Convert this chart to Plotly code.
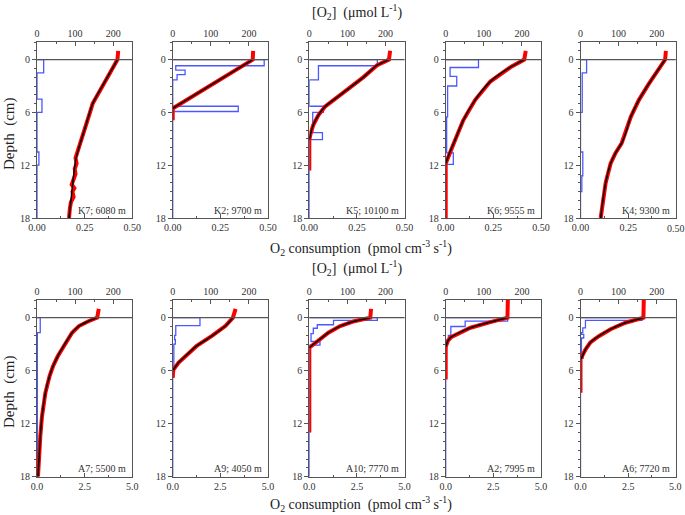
import plotly.graph_objects as go

# ---------------- data ----------------
labels = ["K7; 6080 m", "K2; 9700 m", "K5; 10100 m", "K6; 9555 m", "K4; 9300 m",
          "A7; 5500 m", "A9; 4050 m", "A10; 7770 m", "A2; 7995 m", "A6; 7720 m"]

# O2 profiles (red measurements): depth (cm), O2 (umol/L)
k7_red_depth = [-1.0, -0.5, 0, 1, 2, 3, 4, 5, 6, 7, 8, 9, 10, 10.8, 11.2, 11.8, 12.4, 13.0, 13.6, 14.2, 14.6, 15.0, 15.6, 16.2, 17.0, 18.0]
k7_red_o2 = [213, 212, 211, 198, 185, 172, 159, 146, 139, 132, 125, 117, 110, 106, 101, 104, 99, 101, 95, 91, 98, 93, 96, 89, 86, 84]
k2_red_depth = [-1.0, 0, 5.55, 6.9]
k2_red_o2 = [211, 210, 0, 0]
k5_red_depth = [-1.0, 0, 0.64, 1.96, 3.3, 4.6, 5.36, 6.3, 7.4, 8.4, 9.1, 12.6]
k5_red_o2 = [212, 209, 178, 143, 103, 63, 41, 24, 10.6, 3.5, 0, 0]
k6_red_depth = [-1.0, 0, 0.8, 2.5, 4.6, 6.9, 9.1, 10.5, 11.8, 18]
k6_red_o2 = [210, 206, 172, 117, 77, 46, 25, 11, 0, 0]
k4_red_depth = [-1.0, 0, 2.7, 4.6, 6.5, 8.4, 9.5, 10.6, 11.8, 14, 15.9, 18]
k4_red_o2 = [224, 222, 180, 153, 132, 118, 108, 92, 79, 66, 59, 53]
a7_red_depth = [-1.0, 0, 0.4, 0.95, 1.7, 2.5, 3.2, 4.4, 5.5, 6.6, 8.5, 11.2, 13.4, 18]
a7_red_o2 = [162, 158, 135, 110, 92, 80, 70, 54, 42, 33, 22, 13, 8.7, 2.6]
a9_red_depth = [-1.0, 0, 0.95, 2.1, 3.2, 4.4, 5.1, 5.9, 6.8]
a9_red_o2 = [165, 158, 138, 102, 63, 32, 15, 1.6, 0]
a10_red_depth = [-1.0, 0, 0.4, 0.95, 1.7, 2.5, 3.0, 3.4, 13.0]
a10_red_o2 = [162, 160, 118, 81, 50, 26, 10.6, 0, 0]
a2_red_depth = [-2.0, 0, 0.5, 1.14, 2.2, 2.6, 3.3, 7.0]
a2_red_o2 = [163, 162, 117, 65, 14, 6, 0, 0]
a6_red_depth = [-2.0, 0, 0.57, 1.3, 2.1, 2.8, 3.6, 4.4, 4.7, 8.5]
a6_red_o2 = [166, 165, 118, 79, 48, 26, 13, 4.4, 0, 0]

# model fits (black lines)
k7_fit_depth = [0, 2.5, 5, 7.5, 10, 11.5, 14, 16, 18]
k7_fit_o2 = [211, 178, 146, 128, 110, 101, 94, 89, 84]
k2_fit_depth = [0, 5.55]
k2_fit_o2 = [210, 0]
k5_fit_depth = [0, 0.64, 1.96, 3.3, 4.6, 5.36, 6.3, 7.4, 8.4, 9.1]
k5_fit_o2 = [209, 178, 143, 103, 63, 41, 24, 10.6, 3.5, 0]
k6_fit_depth = [0, 0.8, 2.5, 4.6, 6.9, 9.1, 10.5, 11.8]
k6_fit_o2 = [206, 172, 117, 77, 46, 25, 11, 0]
k4_fit_depth = [0, 2.7, 4.6, 6.5, 8.4, 9.5, 10.6, 11.8, 14, 15.9, 18]
k4_fit_o2 = [222, 180, 153, 132, 118, 108, 92, 79, 66, 59, 53]
a7_fit_depth = [0, 0.4, 0.95, 1.7, 2.5, 3.2, 4.4, 5.5, 6.6, 8.5, 11.2, 13.4, 18]
a7_fit_o2 = [158, 135, 110, 92, 80, 70, 54, 42, 33, 22, 13, 8.7, 2.6]
a9_fit_depth = [0, 0.95, 2.1, 3.2, 4.4, 5.1, 5.9]
a9_fit_o2 = [158, 138, 102, 63, 32, 15, 1.6]
a10_fit_depth = [0, 0.4, 0.95, 1.7, 2.5, 3.0, 3.4]
a10_fit_o2 = [160, 118, 81, 50, 26, 10.6, 0]
a2_fit_depth = [0, 0.5, 1.14, 2.2, 2.6, 3.3]
a2_fit_o2 = [162, 117, 65, 14, 6, 0]
a6_fit_depth = [0, 0.57, 1.3, 2.1, 2.8, 3.6, 4.4, 4.7]
a6_fit_o2 = [165, 118, 79, 48, 26, 13, 4.4, 0]

# O2 consumption rate steps (blue): layer top depth (cm), rate (pmol cm-3 s-1)
k7_rate_depth = [0, 1.5, 4.5, 6.0, 10.5, 12.0, 18]
k7_rate = [0.035, 0, 0.026, 0, 0.01, 0, 0]
k2_rate_depth = [0, 0.7, 1.2, 1.7, 2.3, 5.3, 5.9, 18]
k2_rate = [0.48, 0.016, 0.065, 0.023, 0, 0.344, 0, 0]
k5_rate_depth = [0, 0.7, 2.3, 5.3, 6.0, 8.3, 9.1, 18]
k5_rate = [0.357, 0.048, 0, 0.074, 0.018, 0.069, 0, 0]
k6_rate_depth = [0, 0.9, 1.9, 3.0, 6.5, 10.6, 11.9, 18]
k6_rate = [0.172, 0.023, 0.058, 0.01, 0.005, 0.04, 0, 0]
k4_rate_depth = [0, 1.5, 6.0, 10.5, 13.2, 15.0, 18]
k4_rate = [0.032, 0.009, 0, 0.012, 0.007, 0, 0]
a7_rate_depth = [0, 1.7, 18]
a7_rate = [0.17, 0.02, 0.02]
a9_rate_depth = [0, 0.9, 2.0, 2.5, 3.0, 5.5, 18]
a9_rate = [1.43, 0.16, 0.1, 0.14, 0.06, 0, 0]
a10_rate_depth = [0, 0.3, 0.8, 1.2, 1.8, 2.7, 3.1, 18]
a10_rate = [3.57, 1.27, 0.42, 0.21, 0.09, 0.56, 0, 0]
a2_rate_depth = [0, 0.4, 1.0, 2.0, 2.7, 3.5, 18]
a2_rate = [3.25, 1.02, 0.27, 0.14, 0.05, 0, 0]
a6_rate_depth = [0, 0.3, 1.15, 1.7, 1.9, 2.3, 4.2, 4.6, 18]
a6_rate = [3.23, 0.26, 0.12, 0.05, 0.17, 0.05, 0.14, 0, 0]

red_depths = [k7_red_depth, k2_red_depth, k5_red_depth, k6_red_depth, k4_red_depth,
              a7_red_depth, a9_red_depth, a10_red_depth, a2_red_depth, a6_red_depth]
red_o2s = [k7_red_o2, k2_red_o2, k5_red_o2, k6_red_o2, k4_red_o2,
           a7_red_o2, a9_red_o2, a10_red_o2, a2_red_o2, a6_red_o2]
fit_depths = [k7_fit_depth, k2_fit_depth, k5_fit_depth, k6_fit_depth, k4_fit_depth,
              a7_fit_depth, a9_fit_depth, a10_fit_depth, a2_fit_depth, a6_fit_depth]
fit_o2s = [k7_fit_o2, k2_fit_o2, k5_fit_o2, k6_fit_o2, k4_fit_o2,
           a7_fit_o2, a9_fit_o2, a10_fit_o2, a2_fit_o2, a6_fit_o2]
rate_depths = [k7_rate_depth, k2_rate_depth, k5_rate_depth, k6_rate_depth, k4_rate_depth,
               a7_rate_depth, a9_rate_depth, a10_rate_depth, a2_rate_depth, a6_rate_depth]
rates = [k7_rate, k2_rate, k5_rate, k6_rate, k4_rate,
         a7_rate, a9_rate, a10_rate, a2_rate, a6_rate]

o2_ticks = [0, 100, 200]
rate_ticks_row1 = [0, 0.25, 0.5]
rate_ticks_row2 = [0, 2.5, 5.0]
depth_ticks = [0, 6, 12, 18]

# ---------------- layout geometry ----------------
W, H = 685, 515
col_left_px = [37, 172.7, 309.3, 445.7, 580.5]
panel_w_px = 95.3
row_px = [(42, 218), (300, 476.7)]

FONT = "Liberation Serif, Times New Roman, serif"
AXC = "#555555"
BLUE = "rgb(75,88,255)"
TXT = "#333333"

fig = go.Figure()
layout = dict(
    template="none",
    width=W, height=H, margin=dict(l=0, r=0, t=0, b=0, pad=0), autosize=False,
    paper_bgcolor="white", plot_bgcolor="white", showlegend=False,
    font=dict(family=FONT, size=10, color=TXT),
)
shapes = []
annotations = []

for k in range(10):
    r, c = divmod(k, 5)
    xb = 2 * k + 1
    xt = 2 * k + 2
    yi = k + 1
    xb_name = "xaxis" if xb == 1 else f"xaxis{xb}"
    xt_name = f"xaxis{xt}"
    y_name = "yaxis" if yi == 1 else f"yaxis{yi}"
    xb_ref = "x" if xb == 1 else f"x{xb}"
    xt_ref = f"x{xt}"
    y_ref = "y" if yi == 1 else f"y{yi}"

    x0 = col_left_px[c] / W
    x1 = (col_left_px[c] + panel_w_px) / W
    y0 = 1 - row_px[r][1] / H
    y1 = 1 - row_px[r][0] / H

    rticks = rate_ticks_row1 if r == 0 else rate_ticks_row2
    rmax = rticks[-1]
    rfmt = ".2f" if r == 0 else ".1f"
    rtext = [format(v, rfmt) for v in rticks]
    last_col = (c == 4)
    if last_col:
        # the right-most label sits at the page edge; it is drawn as an annotation below
        rtext = rtext[:-1] + [""]

    layout[xb_name] = dict(
        domain=[x0, x1], anchor=y_ref, range=[0, rmax], side="bottom",
        tickvals=rticks, ticktext=rtext, ticks="inside", ticklen=4, tickcolor=AXC,
        minor=dict(dtick=rmax / 4, tick0=0, ticks="inside", ticklen=2, tickcolor=AXC),
        showline=True, linecolor=AXC, linewidth=1, showgrid=False, zeroline=False,
        automargin=False, ticklabeloverflow="allow",
        tickfont=dict(family=FONT, size=10, color=TXT), fixedrange=True,
    )
    layout[xt_name] = dict(
        overlaying=xb_ref, anchor=y_ref, range=[0, 250], side="top",
        tickvals=o2_ticks, ticks="inside", ticklen=4, tickcolor=AXC,
        minor=dict(dtick=50, tick0=0, ticks="inside", ticklen=2, tickcolor=AXC),
        showline=True, linecolor=AXC, linewidth=1, showgrid=False, zeroline=False,
        automargin=False, ticklabeloverflow="allow",
        tickfont=dict(family=FONT, size=10, color=TXT), fixedrange=True,
    )
    layout[y_name] = dict(
        domain=[y0, y1], anchor=xb_ref, range=[18, -2],
        tickvals=depth_ticks, ticks="outside", ticklen=4, tickcolor=AXC,
        minor=dict(dtick=1, tick0=0, ticks="outside", ticklen=2, tickcolor=AXC),
        showline=True, mirror=True, linecolor=AXC, linewidth=1,
        showgrid=False, zeroline=False, automargin=False,
        tickfont=dict(family=FONT, size=10, color=TXT), fixedrange=True,
    )

    if last_col:
        annotations.append(dict(text=format(rmax, rfmt), xref="paper", yref="paper",
                                x=x1, y=1 - (row_px[r][1] + 10) / H,
                                xanchor="center", yanchor="middle", showarrow=False,
                                font=dict(family=FONT, size=10, color=TXT)))

    # sediment-water interface line
    shapes.append(dict(type="line", xref=f"{xb_ref} domain", yref=y_ref,
                       x0=0, x1=1, y0=0, y1=0, line=dict(color=AXC, width=1.3)))

    # blue consumption steps
    sx = [0] + rates[k]
    sy = [0] + rate_depths[k]
    fig.add_trace(go.Scatter(x=sx, y=sy, mode="lines", line_shape="vh",
                             line=dict(color=BLUE, width=1.3),
                             xaxis=xb_ref, yaxis=y_ref, hoverinfo="skip"))
    # red measurements
    fig.add_trace(go.Scatter(x=red_o2s[k], y=red_depths[k], mode="lines",
                             line=dict(color="rgb(255,0,0)", width=4),
                             xaxis=xt_ref, yaxis=y_ref, hoverinfo="skip"))
    # black fit
    fig.add_trace(go.Scatter(x=fit_o2s[k], y=fit_depths[k], mode="lines",
                             line=dict(color="black", width=1.5, shape="spline", smoothing=0.6),
                             xaxis=xt_ref, yaxis=y_ref, hoverinfo="skip"))

    annotations.append(dict(text=labels[k], xref=f"{xb_ref} domain", yref=y_ref,
                            x=0.96, y=17.1, xanchor="right", yanchor="middle",
                            showarrow=False, font=dict(family=FONT, size=10, color=TXT)))

# global titles
o2_title = "[O<sub>2</sub>]  (μmol L<sup>-1</sup>)"
rate_title = "O<sub>2</sub> consumption  (pmol cm<sup>-3</sup> s<sup>-1</sup>)"
for ypx in (12, 268):
    annotations.append(dict(text=o2_title, xref="paper", yref="paper",
                            x=357 / W, y=1 - ypx / H, xanchor="center", yanchor="middle",
                            showarrow=False, font=dict(family=FONT, size=14, color="#222222")))
for ypx in (248, 504):
    annotations.append(dict(text=rate_title, xref="paper", yref="paper",
                            x=361 / W, y=1 - ypx / H, xanchor="center", yanchor="middle",
                            showarrow=False, font=dict(family=FONT, size=14, color="#222222")))
for ypx in (134, 392):
    annotations.append(dict(text="Depth  (cm)", xref="paper", yref="paper",
                            x=9 / W, y=1 - ypx / H, xanchor="center", yanchor="middle",
                            textangle=-90, showarrow=False,
                            font=dict(family=FONT, size=15, color="#222222")))

layout["shapes"] = shapes
layout["annotations"] = annotations
fig.update_layout(**layout)
fig.write_html("out.html", config={"displayModeBar": False},
               post_script="document.body.style.margin='0px';document.body.style.overflow='hidden';")
